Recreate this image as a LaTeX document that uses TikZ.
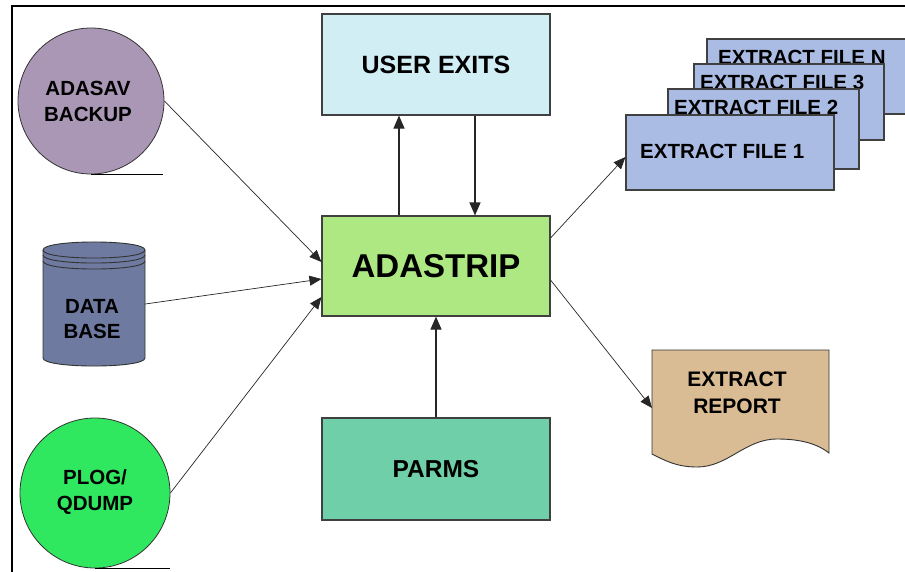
\documentclass[tikz,border=0pt]{standalone}
\usepackage{fontspec}
\setmainfont{Liberation Sans}
\usetikzlibrary{arrows.meta,calc}
\definecolor{cAdasav}{HTML}{AA97B5}
\definecolor{cDb}{HTML}{6E7AA0}
\definecolor{cPlog}{HTML}{30E860}
\definecolor{cUser}{HTML}{D2EEF5}
\definecolor{cStrip}{HTML}{AEE882}
\definecolor{cParms}{HTML}{6FCFA8}
\definecolor{cFile}{HTML}{AABCE4}
\definecolor{cRep}{HTML}{D9BC94}
\begin{document}
\begin{tikzpicture}[x=1pt,y=-1pt,
  box/.style={draw=black!75, line width=1.1pt, rectangle, inner sep=0pt},
  disc/.style={draw=black!80, line width=0.8pt, circle, inner sep=0pt, minimum size=148pt},
  conn/.style={line width=0.7pt, draw=black!85, -{Triangle[length=12pt,width=10pt]}},
  vconn/.style={line width=1.1pt, draw=black!85, -{Triangle[length=13pt,width=11pt]}},
  lbl/.style={font=\bfseries\fontsize{20.5}{25.5}\selectfont, align=center},
  flbl/.style={font=\bfseries\fontsize{20.5}{25}\selectfont, anchor=west, inner sep=0pt},
  shp/.style={draw=black!80, line width=0.9pt}
]
\useasboundingbox (0,0) rectangle (905,571);
% frame
\draw[line width=2.2pt] (12,572) -- (12,6) -- (906,6);

% ADASAV BACKUP
\node[disc, fill=cAdasav, minimum size=146pt] (adasav) at (91,101) {};
\node[lbl] (adasavt) at (88,101.5) {ADASAV\\BACKUP};
\draw[line width=0.9pt] (adasav.south) -- ++(72,0);

% DATA BASE cylinder
\draw[shp, fill=cDb] (43,250) -- (43,358)
  .. controls (43,368.7) and (145,368.7) .. (145,358) -- (145,250)
  .. controls (145,239.3) and (43,239.3) .. (43,250) -- cycle;
\draw[shp] (43,250) .. controls (43,260.7) and (145,260.7) .. (145,250);
\draw[shp] (43,255) .. controls (43,265.7) and (145,265.7) .. (145,255);
\draw[shp] (43,261) .. controls (43,271.7) and (145,271.7) .. (145,261);
\node[minimum width=102pt, minimum height=108pt, inner sep=0pt] (db) at (94,304) {};
\node[lbl] (dbt) at (92,319) {DATA\\BASE};

% PLOG/QDUMP
\node[disc, fill=cPlog, minimum size=150pt] (plog) at (95,493) {};
\node[lbl] (plogt) at (95,492) {PLOG/\\QDUMP};
\draw[line width=0.9pt] (plog.south) -- ++(75,0);

% center column
\node[box, fill=cUser, minimum width=228pt, minimum height=101pt,
  font=\bfseries\fontsize{25}{30}\selectfont] (ue) at (436,64.5) {USER EXITS};
\node[box, fill=cStrip, minimum width=228pt, minimum height=100pt,
  font=\bfseries\fontsize{33}{40}\selectfont] (ast) at (436,266) {ADASTRIP};
\node[box, fill=cParms, minimum width=228pt, minimum height=102pt,
  font=\bfseries\fontsize{24.5}{30}\selectfont] (parms) at (436,469) {PARMS};

% extract files
\node[box, fill=cFile, minimum width=225pt, minimum height=75pt] (fN) at (819.5,76.5) {};
\node[flbl] (fNt) at (718,57) {EXTRACT FILE N};
\node[box, fill=cFile, minimum width=190pt, minimum height=76pt] (f3) at (789,102) {};
\node[flbl] (f3t) at (700,82) {EXTRACT FILE 3};
\node[box, fill=cFile, minimum width=191pt, minimum height=80pt] (f2) at (763.5,129) {};
\node[flbl] (f2t) at (674,107.5) {EXTRACT FILE 2};
\node[box, fill=cFile, minimum width=208pt, minimum height=75pt] (f1) at (730,152.5) {};
\node[flbl] (f1t) at (640,151) {EXTRACT FILE 1};

% extract report
\draw[shp, fill=cRep] (652,350) -- (829,350) -- (829,453)
  .. controls (815,442) and (796,439) .. (777,439)
  .. controls (745,439) and (728,467) .. (697,467)
  .. controls (676,467) and (664,460) .. (652,454) -- cycle;
\node[lbl, font=\bfseries\fontsize{21}{26.5}\selectfont] (rep) at (737,393) {EXTRACT\\REPORT};
\coordinate (repin) at (652,408);

% connectors
\draw[conn] (adasav.east) -- ($(ast.west)+(0,-4)$);
\draw[conn] (db.east) -- ($(ast.west)+(0,13)$);
\draw[conn] (plog.east) -- ($(ast.west)+(0,31)$);
\draw[vconn] ($(ast.north)+(-37,0)$) -- ($(ue.south)+(-37,0)$);
\draw[vconn] ($(ue.south)+(39,0)$) -- ($(ast.north)+(39,0)$);
\draw[vconn] (parms.north) -- (ast.south);
\draw[conn] ($(ast.east)+(0,-28)$) -- ($(f1.west)+(0,4.5)$);
\draw[conn] ($(ast.east)+(0,14)$) -- (repin);
\end{tikzpicture}
\end{document}
